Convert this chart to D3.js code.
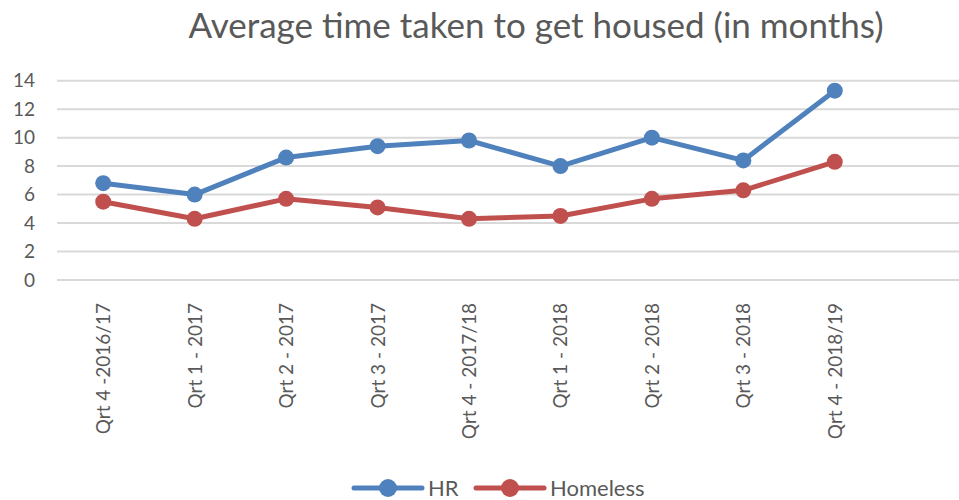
<!DOCTYPE html>
<html>
<head>
<meta charset="utf-8">
<script src="https://cdn.jsdelivr.net/npm/d3@7"></script>
<style>
  body { margin: 0; background: #fff; }
  svg { display: block; font-family: Lato, "Open Sans", sans-serif; }
</style>
</head>
<body>
<div id="chart"></div>
<script>
// Chart data
const categories = ["Qrt 4 -2016/17", "Qrt 1 - 2017", "Qrt 2 - 2017", "Qrt 3 - 2017", "Qrt 4 - 2017/18",
  "Qrt 1 - 2018", "Qrt 2 - 2018", "Qrt 3 - 2018", "Qrt 4 - 2018/19"];
const hrValues = [6.8, 6.0, 8.6, 9.4, 9.8, 8.0, 10.0, 8.4, 13.3];
const homelessValues = [5.5, 4.3, 5.7, 5.1, 4.3, 4.5, 5.7, 6.3, 8.3];
const yTicks = [0, 2, 4, 6, 8, 10, 12, 14];
const seriesNames = ["HR", "Homeless"];
const seriesColors = ["#4f81bd", "#c0504d"];

const width = 959, height = 500;
const textColor = "#595959";

const svg = d3.select("#chart").append("svg")
  .attr("width", width)
  .attr("height", height);

// Scales
const x = d3.scaleBand()
  .domain(categories)
  .range([57.5, 880.5]);

const y = d3.scaleLinear()
  .domain([0, 14])
  .range([280, 80.7]);

// Title
svg.append("text")
  .attr("x", 536)
  .attr("y", 38)
  .attr("text-anchor", "middle")
  .style("font-size", "35px")
  .style("fill", textColor)
  .text("Average time taken to get housed (in months)");

// Gridlines
svg.append("g")
  .selectAll("line")
  .data(yTicks)
  .enter().append("line")
  .attr("x1", 57)
  .attr("x2", width)
  .attr("y1", d => y(d))
  .attr("y2", d => y(d))
  .attr("stroke", "#d9d9d9")
  .attr("stroke-width", 2);

// Y axis labels
svg.append("g")
  .selectAll("text")
  .data(yTicks)
  .enter().append("text")
  .attr("x", 35)
  .attr("y", d => y(d))
  .attr("dy", "0.35em")
  .attr("text-anchor", "end")
  .style("font-size", "19px")
  .style("fill", textColor)
  .text(d => d);

// X axis labels (rotated)
svg.append("g")
  .selectAll("text")
  .data(categories)
  .enter().append("text")
  .attr("transform", d => `translate(${x(d) + x.bandwidth() / 2 + 7},303) rotate(-90)`)
  .attr("text-anchor", "end")
  .style("font-size", "19px")
  .style("fill", textColor)
  .text(d => d);

// Lines and markers
const series = [hrValues, homelessValues];
const line = d3.line()
  .x((d, i) => x(categories[i]) + x.bandwidth() / 2)
  .y(d => y(d));

series.forEach((values, s) => {
  svg.append("path")
    .datum(values)
    .attr("d", line)
    .attr("fill", "none")
    .attr("stroke", seriesColors[s])
    .attr("stroke-width", 5)
    .attr("stroke-linejoin", "round")
    .attr("stroke-linecap", "round");

  svg.append("g")
    .selectAll("circle")
    .data(values)
    .enter().append("circle")
    .attr("cx", (d, i) => x(categories[i]) + x.bandwidth() / 2)
    .attr("cy", d => y(d))
    .attr("r", 8)
    .attr("fill", seriesColors[s]);
});

// Legend
const legendX = [354, 476];
const legend = svg.append("g")
  .selectAll("g")
  .data(seriesNames)
  .enter().append("g")
  .attr("transform", (d, i) => `translate(${legendX[i]},488)`);

legend.append("line")
  .attr("x1", 0)
  .attr("x2", 68)
  .attr("stroke", (d, i) => seriesColors[i])
  .attr("stroke-width", 5)
  .attr("stroke-linecap", "round");

legend.append("circle")
  .attr("cx", 34)
  .attr("r", 9)
  .attr("fill", (d, i) => seriesColors[i]);

legend.append("text")
  .attr("x", 74)
  .attr("dy", "0.35em")
  .style("font-size", "22px")
  .style("fill", textColor)
  .text(d => d);
</script>
</body>
</html>
